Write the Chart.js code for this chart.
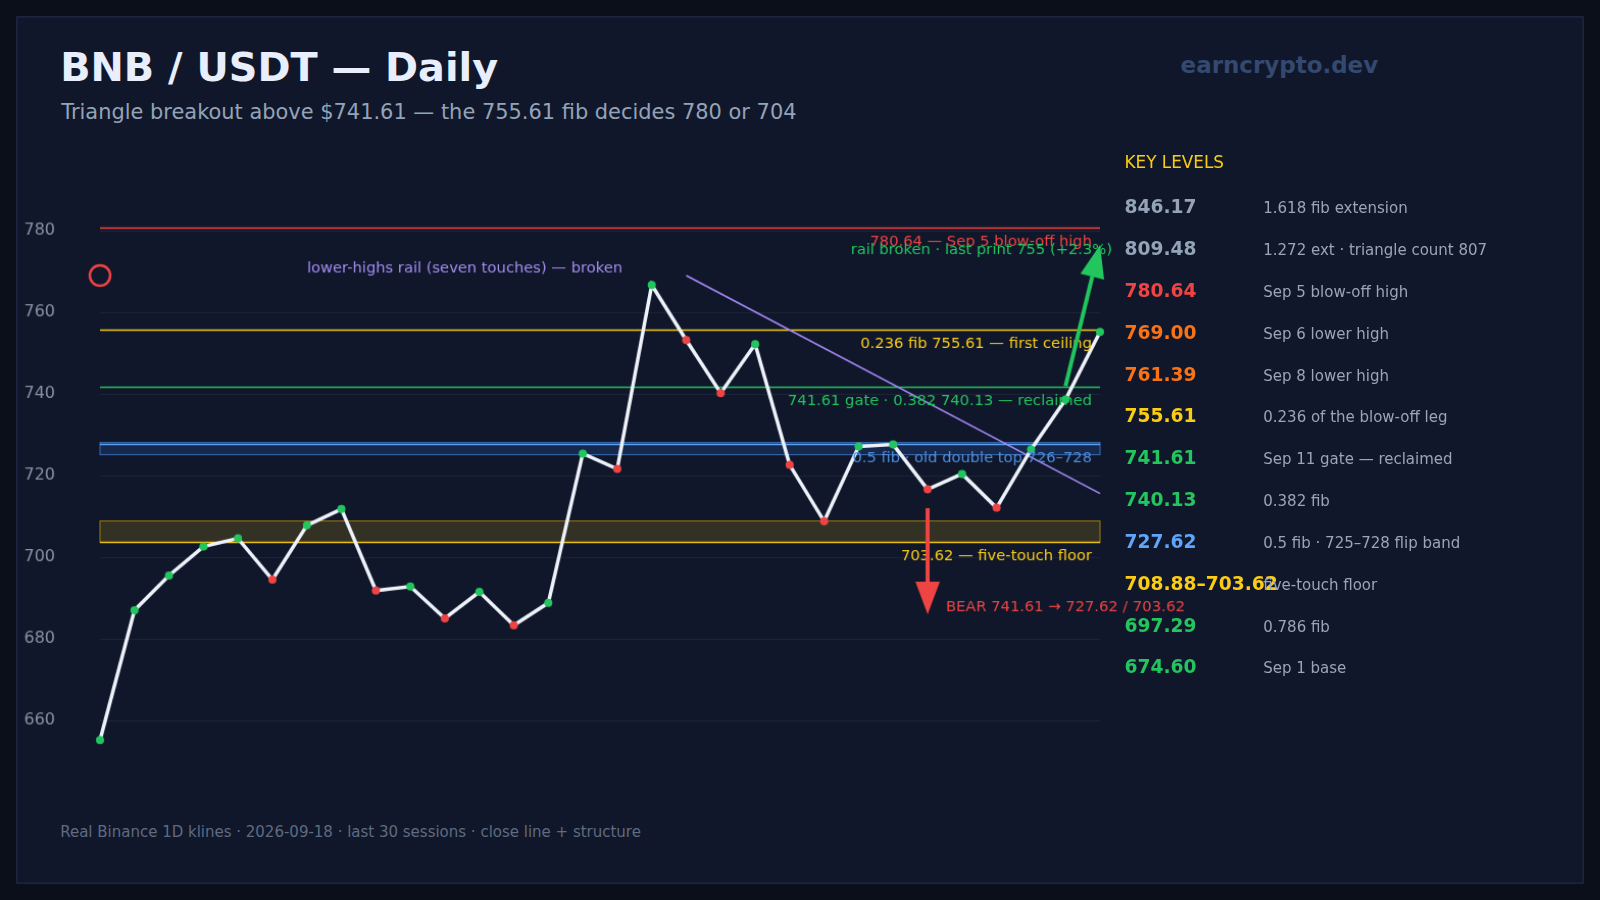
<!DOCTYPE html>
<html>
<head>
<meta charset="utf-8">
<script src="https://cdn.jsdelivr.net/npm/chart.js@4.4.1/dist/chart.umd.min.js"></script>
<style>
  html, body { margin: 0; padding: 0; background: #0a0f1a; overflow: hidden; }
  #stage { position: absolute; left: 0; top: 0; width: 1568px; height: 882px; transform: scale(1.0204); transform-origin: 0 0; font-family: "DejaVu Sans", sans-serif; }
  #panel { position: absolute; left: 16px; top: 16px; width: 1534px; height: 848px; background: #10172a; border: 1px solid #22304d; }
  .t { position: absolute; white-space: nowrap; }
  #chartBox { position: absolute; left: 0; top: 0; width: 1200px; height: 882px; }
</style>
</head>
<body>
<div id="stage">
  <div id="panel"></div>
  <div class="t" style="left:59px;top:43px;font-size:39px;font-weight:bold;color:#e8eefc;">BNB / USDT — Daily</div>
  <div class="t" style="left:60px;top:98px;font-size:20.5px;color:#94a3b8;">Triangle breakout above $741.61 — the 755.61 fib decides 780 or 704</div>
  <div class="t" style="left:1157px;top:51px;font-size:22.5px;font-weight:bold;color:#34496f;">earncrypto.dev</div>
  <div class="t" style="left:59px;top:806px;font-size:14.7px;color:#5f6b80;">Real Binance 1D klines · 2026-09-18 · last 30 sessions · close line + structure</div>
  <div id="chartBox"><canvas id="c"></canvas></div>
  <div id="levels"></div>
</div>
<script>
const days = ['Aug 20','Aug 21','Aug 22','Aug 23','Aug 24','Aug 25','Aug 26','Aug 27','Aug 28','Aug 29','Aug 30','Aug 31','Sep 1','Sep 2','Sep 3','Sep 4','Sep 5','Sep 6','Sep 7','Sep 8','Sep 9','Sep 10','Sep 11','Sep 12','Sep 13','Sep 14','Sep 15','Sep 16','Sep 17','Sep 18'];
const closes = [655.2, 687.0, 695.5, 702.6, 704.6, 694.5, 707.8, 711.8, 691.8, 692.8, 685.0, 691.5, 683.3, 688.8, 725.4, 721.6, 766.7, 753.2, 740.2, 752.2, 722.6, 708.8, 727.1, 727.6, 716.6, 720.4, 712.1, 726.4, 738.6, 755.2];
const yTicks = [660, 680, 700, 720, 740, 760, 780];

const levelValues = ['846.17','809.48','780.64','769.00','761.39','755.61','741.61','740.13','727.62','708.88–703.62','697.29','674.60'];
const levelNotes = ['1.618 fib extension','1.272 ext · triangle count 807','Sep 5 blow-off high','Sep 6 lower high','Sep 8 lower high','0.236 of the blow-off leg','Sep 11 gate — reclaimed','0.382 fib','0.5 fib · 725–728 flip band','five-touch floor','0.786 fib','Sep 1 base'];
const levelColors = ['#94a3b8','#94a3b8','#ef4444','#f97316','#f97316','#facc15','#22c55e','#22c55e','#60a5fa','#facc15','#22c55e','#22c55e'];

// horizontal structure
const hLines = [
  {v: 780.64, color: '#ef4444'},
  {v: 755.61, color: '#facc15'},
  {v: 741.61, color: '#22c55e'},
  {v: 727.62, color: '#60a5fa'},
  {v: 703.62, color: '#facc15'}
];
const bands = [
  {lo: 725.1, hi: 728.1, fill: 'rgba(59,130,246,0.16)', stroke: '#3b6fb6'},
  {lo: 703.62, hi: 708.88, fill: 'rgba(234,179,8,0.16)', stroke: '#a07c10'}
];
const notes = [
  {text: '780.64 — Sep 5 blow-off high', v: 777.3, color: '#ef4444', align: 'right', x: 1070},
  {text: 'rail broken · last print 755 (+2.3%)', v: 775.3, color: '#22c55e', align: 'right', x: 1090},
  {text: 'lower-highs rail (seven touches) — broken', v: 770.8, color: '#a48cf0', align: 'left', x: 301},
  {text: '0.236 fib 755.61 — first ceiling', v: 752.3, color: '#facc15', align: 'right', x: 1070},
  {text: '741.61 gate · 0.382 740.13 — reclaimed', v: 738.3, color: '#22c55e', align: 'right', x: 1070},
  {text: '0.5 fib · old double top 726–728', v: 724.3, color: '#4f8fe0', align: 'right', x: 1070},
  {text: '703.62 — five-touch floor', v: 700.1, color: '#facc15', align: 'right', x: 1070},
  {text: 'BEAR 741.61 → 727.62 / 703.62', v: 687.6, color: '#ef4444', align: 'left', x: 927}
];
const rail = {from: [17, 769.0], to: [29, 715.6]};
const bullArrow = {from: [28, 741.9], to: [29, 776.5]};
const bearArrow = {from: [24, 712.0], to: [24, 686.0]};

let html = '<div class="t" style="left:1102px;top:150px;font-size:16.5px;color:#facc15;">KEY LEVELS</div>';
levelValues.forEach((v, i) => {
  const top = 192 + i * 41;
  html += `<div class="t" style="left:1102px;top:${top}px;font-size:18.3px;font-weight:bold;color:${levelColors[i]};">${v}</div>`;
  html += `<div class="t" style="left:1238px;top:${top + 3}px;font-size:14.7px;color:#9aa5b8;">${levelNotes[i]}</div>`;
});
document.getElementById('levels').innerHTML = html;

function arrow(ctx, x1, y1, x2, y2, color) {
  const a = Math.atan2(y2 - y1, x2 - x1), head = 32, w = 12;
  const bx = x2 - head * Math.cos(a), by = y2 - head * Math.sin(a);
  ctx.strokeStyle = color; ctx.fillStyle = color; ctx.lineWidth = 4;
  ctx.beginPath(); ctx.moveTo(x1, y1); ctx.lineTo(bx, by); ctx.stroke();
  ctx.beginPath(); ctx.moveTo(x2, y2);
  ctx.lineTo(bx + w * Math.sin(a), by - w * Math.cos(a));
  ctx.lineTo(bx - w * Math.sin(a), by + w * Math.cos(a));
  ctx.closePath(); ctx.fill();
}

const structure = {
  id: 'structure',
  beforeDatasetsDraw(chart) {
    const {ctx, chartArea: ca, scales: {x, y}} = chart;
    ctx.save();
    bands.forEach(b => {
      const t = y.getPixelForValue(b.hi), bt = y.getPixelForValue(b.lo);
      ctx.fillStyle = b.fill; ctx.fillRect(ca.left, t, ca.right - ca.left, bt - t);
      ctx.strokeStyle = b.stroke; ctx.lineWidth = 1; ctx.strokeRect(ca.left, t, ca.right - ca.left, bt - t);
    });
    hLines.forEach(l => {
      const py = y.getPixelForValue(l.v);
      ctx.strokeStyle = l.color; ctx.lineWidth = 1.6;
      ctx.beginPath(); ctx.moveTo(ca.left, py); ctx.lineTo(ca.right, py); ctx.stroke();
    });
    ctx.strokeStyle = '#a78bfa'; ctx.lineWidth = 1.6;
    ctx.beginPath();
    ctx.moveTo(x.getPixelForValue(rail.from[0]), y.getPixelForValue(rail.from[1]));
    ctx.lineTo(x.getPixelForValue(rail.to[0]), y.getPixelForValue(rail.to[1]));
    ctx.stroke();
    ctx.restore();
  },
  afterDatasetsDraw(chart) {
    const {ctx, scales: {x, y}} = chart;
    ctx.save();
    ctx.font = '14.7px "DejaVu Sans"'; ctx.textBaseline = 'middle';
    notes.forEach(n => {
      ctx.fillStyle = n.color; ctx.textAlign = n.align;
      ctx.fillText(n.text, n.x, y.getPixelForValue(n.v));
    });
    arrow(ctx, x.getPixelForValue(bullArrow.from[0]), y.getPixelForValue(bullArrow.from[1]),
      x.getPixelForValue(bullArrow.to[0]), y.getPixelForValue(bullArrow.to[1]), '#22c55e');
    arrow(ctx, x.getPixelForValue(bearArrow.from[0]), y.getPixelForValue(bearArrow.from[1]),
      x.getPixelForValue(bearArrow.to[0]), y.getPixelForValue(bearArrow.to[1]), '#ef4444');
    ctx.strokeStyle = '#ef4444'; ctx.lineWidth = 2.5;
    ctx.beginPath(); ctx.arc(x.getPixelForValue(0), y.getPixelForValue(769.0), 10, 0, Math.PI * 2); ctx.stroke();
    ctx.restore();
  }
};

const pointColors = closes.map((c, i) => (i === 0 || c >= closes[i - 1]) ? '#22c55e' : '#ef4444');

new Chart(document.getElementById('c'), {
  type: 'line',
  data: {
    labels: days,
    datasets: [{
      data: closes,
      borderColor: '#eef2fa',
      borderWidth: 3.5,
      pointRadius: 4,
      pointBackgroundColor: pointColors,
      pointBorderWidth: 0,
      tension: 0
    }]
  },
  options: {
    responsive: true,
    maintainAspectRatio: false,
    animation: false,
    layout: {padding: {top: 186, bottom: 96, left: 0, right: 122}},
    plugins: {legend: {display: false}, tooltip: {enabled: false}},
    scales: {
      x: {offset: false, display: false},
      y: {
        min: 640, max: 790,
        afterFit: s => { s.width = 98; },
        afterBuildTicks: s => { s.ticks = yTicks.map(v => ({value: v})); },
        border: {display: false},
        grid: {color: '#1e2638', drawTicks: false},
        ticks: {color: '#8792a6', font: {family: 'DejaVu Sans', size: 16}, padding: 44}
      }
    }
  },
  plugins: [structure]
});
</script>
</body>
</html>
